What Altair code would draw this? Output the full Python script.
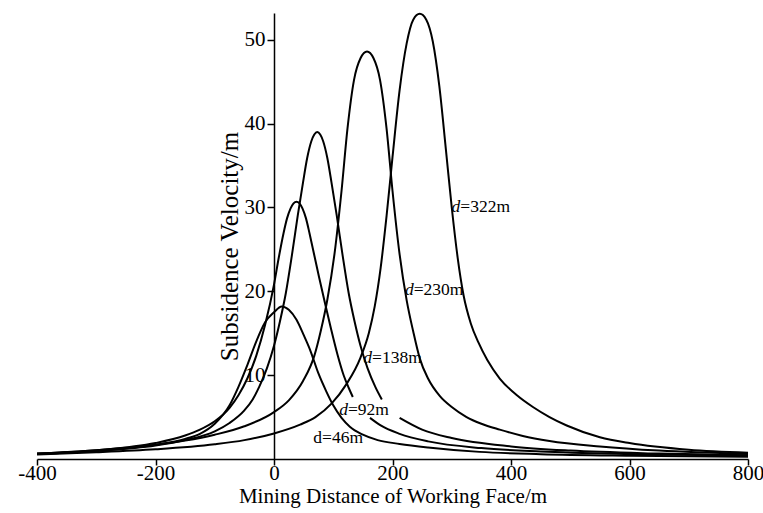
import altair as alt
import pandas as pd

# ---- data (None marks a break in a curve) ----
d46_x = [-400, -300, -200, -150, -125, -100, -75, -60, -45, -30, -15, 0, 13, 25, 38, 50, 61, 75, 88, 100, 114, 128, 150, 175, 212, 260, 347, 450, 600, 800]
d46_v = [0.6, 0.95, 1.7, 2.4, 3.0, 4.2, 6.4, 8.6, 11.2, 14.0, 16.3, 17.5, 18.2, 17.8, 16.6, 14.8, 13.0, 10.2, 8.1, 6.4, 4.9, 3.85, 2.9, 2.25, 1.8, 1.38, 0.85, 0.58, 0.4, 0.28]

d92_x = [-400, -300, -200, -150, -125, -100, -75, -60, -45, -30, -15, 0, 8, 16, 22, 28, 33, 38, 43, 48, 54, 60, 68, 76, 86, 96, 107, 118, 126, 133, None, 162, 180, 212, 260, 350, 450, 600, 800]
d92_v = [0.65, 1.05, 1.9, 2.8, 3.5, 4.5, 6.1, 7.6, 9.6, 12.3, 16.0, 20.8, 24.0, 26.9, 28.7, 29.9, 30.5, 30.7, 30.5, 29.9, 28.7, 26.9, 24.3, 21.7, 18.6, 15.6, 12.5, 9.9, 8.5, 7.4, None, 4.9, 4.0, 3.0, 2.1, 1.3, 0.9, 0.6, 0.4]

d138_x = [-400, -300, -200, -150, -100, -75, -50, -36, -25, -12, 0, 10, 20, 30, 40, 49, 56, 63, 68, 73, 78, 83, 90, 97, 106, 116, 126, 136, 146, 158, 171, 182, None, 212, 250, 300, 400, 500, 650, 800]
d138_v = [0.6, 0.95, 1.6, 2.25, 3.3, 4.3, 5.8, 7.1, 8.6, 10.8, 13.5, 16.4, 19.8, 24.2, 29.0, 33.0, 35.9, 37.9, 38.7, 39.0, 38.7, 37.9, 35.9, 33.0, 29.0, 24.2, 19.8, 16.4, 13.5, 10.8, 8.6, 7.1, None, 4.9, 3.5, 2.5, 1.5, 1.0, 0.65, 0.45]

d230_x = [-400, -300, -200, -150, -100, -50, 0, 25, 49, 68, 79, 90, 102, 114, 124, 135, 146, 157, 168, 179, 190, 200, 212, 224, 235, 246, 260, 280, 300, 325, 350, 381, 420, 465, 550, 650, 800]
d230_v = [0.65, 1.05, 1.7, 2.2, 2.9, 3.9, 5.6, 7.0, 9.3, 12.3, 15.3, 19.0, 24.4, 32.0, 39.4, 45.2, 47.8, 48.6, 47.8, 45.2, 39.4, 32.0, 24.4, 18.9, 15.2, 12.0, 9.6, 7.5, 6.2, 5.0, 4.2, 3.5, 2.75, 2.15, 1.5, 1.0, 0.6]

d322_x = [-400, -300, -200, -100, -50, 0, 44, 70, 97, 122, 146, 160, 170, 180, 190, 200, 212, 224, 235, 246, 257, 268, 279, 290, 300, 310, 320, 332, 345, 360, 381, 410, 437, 465, 494, 550, 600, 700, 800]
d322_v = [0.55, 0.8, 1.15, 1.75, 2.25, 3.05, 4.1, 5.0, 6.6, 8.9, 12.1, 15.0, 18.2, 22.8, 29.0, 36.0, 44.0, 49.6, 52.4, 53.1, 52.4, 49.8, 44.5, 37.0, 30.0, 24.0, 19.5, 16.2, 13.9, 11.8, 9.6, 7.6, 6.2, 5.0, 4.0, 2.6, 1.9, 1.1, 0.75]

curve_names = ["d=46m", "d=92m", "d=138m", "d=230m", "d=322m"]

label_x = [299.7, 221, 150.6, 110, 66.3]
label_y = [30.1, 20.1, 12.1, 5.84, 2.47]
label_rest = ["=322m", "=230m", "=138m", "=92m", "=46m"]
label_italic = [True, True, True, True, False]

x_ticks = [-400, -200, 0, 200, 400, 600, 800]
y_ticks = [10, 20, 30, 40, 50]

# ---- build tables ----
rows = []
for name, xs, vs in zip(curve_names,
                        [d46_x, d92_x, d138_x, d230_x, d322_x],
                        [d46_v, d92_v, d138_v, d230_v, d322_v]):
    seg = 0
    for i, (x, v) in enumerate(zip(xs, vs)):
        if x is None:
            seg += 1
            continue
        rows.append({"curve": name, "key": f"{name}-{seg}", "x": x, "v": v, "order": i})
df = pd.DataFrame(rows)

lab = pd.DataFrame({"x": label_x, "v": label_y, "rest": label_rest, "italic": label_italic})

FONT = "Liberation Serif"
W, H = 711, 446

xscale = alt.Scale(domain=[-400, 800], nice=False, zero=False)
yscale = alt.Scale(domain=[0, 53.2], nice=False)

lines = alt.Chart(df).mark_line(color="black", strokeWidth=2, interpolate="monotone").encode(
    x=alt.X("x:Q", scale=xscale,
            axis=alt.Axis(values=x_ticks, title="Mining Distance of Working Face/m",
                          labelExpr="'' + datum.value", grid=False,
                          tickSize=6, labelPadding=-3, titlePadding=2,
                          labelFontSize=21, titleFontSize=21, labelFlush=False)),
    y=alt.Y("v:Q", scale=yscale,
            axis=alt.Axis(values=y_ticks, title="Subsidence Velocity/m", grid=False,
                          offset=-237, tickSize=7, labelPadding=2, titlePadding=2,
                          titleY=233,
                          labelFontSize=21, titleFontSize=25)),
    detail="key:N",
    order="order:Q",
)

lab_d_it = alt.Chart(lab).transform_filter("datum.italic").mark_text(
    text="d", font=FONT, fontSize=17.5, fontStyle="italic", align="left", baseline="middle", color="black"
).encode(x=alt.X("x:Q", scale=xscale), y=alt.Y("v:Q", scale=yscale))

lab_d_up = alt.Chart(lab).transform_filter("!datum.italic").mark_text(
    text="d", font=FONT, fontSize=17.5, align="left", baseline="middle", color="black"
).encode(x=alt.X("x:Q", scale=xscale), y=alt.Y("v:Q", scale=yscale))

lab_rest = alt.Chart(lab).mark_text(
    font=FONT, fontSize=17.5, align="left", baseline="middle", color="black", dx=8.8
).encode(x=alt.X("x:Q", scale=xscale), y=alt.Y("v:Q", scale=yscale), text="rest:N")

chart = alt.layer(lines, lab_d_it, lab_d_up, lab_rest).properties(
    width=W, height=H,
    padding={"left": 37, "top": 13, "right": 15, "bottom": 54},
    autosize=alt.AutoSizeParams(type="none"),
    background="white",
).configure_view(strokeWidth=0).configure_axis(
    labelFont=FONT, titleFont=FONT, labelColor="black", titleColor="black",
    domainColor="black", tickColor="black", domainWidth=1.5, tickWidth=1.5,
    titleFontWeight="normal",
)

chart.save("out.html", embed_options={"renderer": "svg", "actions": False})
